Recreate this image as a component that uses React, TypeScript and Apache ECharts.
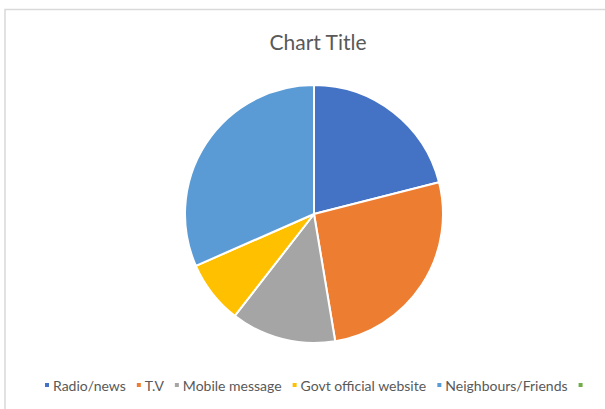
import React, { useEffect, useRef } from "react";
import * as echarts from "echarts";

const categories = ["Radio/news", "T.V", "Mobile message", "Govt official website", "Neighbours/Friends", " "];
const values = [8, 10, 5, 3, 12, 0];
const colors = ["#4472C4", "#ED7D31", "#A5A5A5", "#FFC000", "#5B9BD5", "#70AD47"];
const titleText = "Chart Title";

export default function App() {
  const ref = useRef<HTMLDivElement>(null);
  useEffect(() => {
    if (!ref.current) return;
    const chart = echarts.init(ref.current, undefined, { renderer: "svg" });
    const font = "Lato, 'Open Sans', sans-serif";
    chart.setOption({
      animation: false,
      backgroundColor: "#ffffff",
      color: colors,
      title: {
        text: titleText,
        left: 313,
        textAlign: "center",
        top: 26,
        textStyle: { fontFamily: font, fontSize: 21, fontWeight: "normal", color: "#595959" },
      },
      legend: {
        bottom: 12,
        left: 38,
        icon: "rect",
        itemWidth: 6,
        itemHeight: 6,
        itemGap: 9,
        data: categories,
        selectedMode: false,
        textStyle: { fontFamily: font, fontSize: 14, color: "#595959", padding: [0, 0, 0, -2] },
      },
      graphic: [
        {
          type: "rect",
          shape: { x: 5, y: 9.5, width: 700, height: 500 },
          style: { fill: "none", stroke: "#d9d9d9", lineWidth: 1.5 },
          silent: true,
        },
      ],
      series: [
        {
          type: "pie",
          center: [314, 214],
          radius: 129,
          startAngle: 90,
          clockwise: true,
          label: { show: false },
          labelLine: { show: false },
          itemStyle: { borderColor: "#ffffff", borderWidth: 2 },
          emphasis: { disabled: true },
          data: categories.map((c, i) => ({ name: c, value: values[i] })),
        },
      ],
    });
    return () => chart.dispose();
  }, []);
  return <div ref={ref} style={{ position: "fixed", left: 0, top: 0, width: 605, height: 409 }} />;
}
